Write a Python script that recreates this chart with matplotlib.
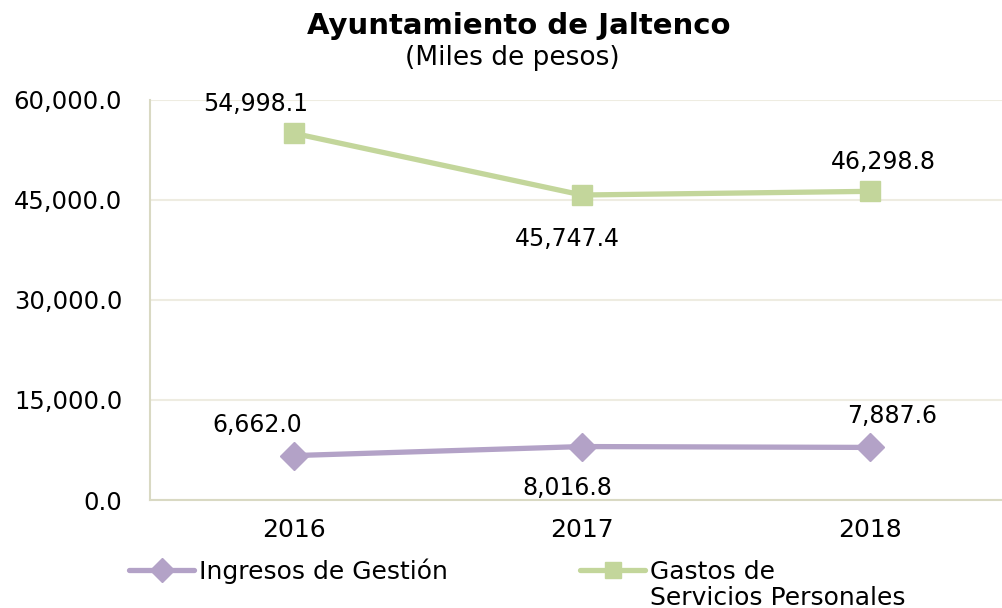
import matplotlib
matplotlib.use("Agg")
import matplotlib.pyplot as plt
from matplotlib.ticker import FuncFormatter, MultipleLocator

plt.rcParams['font.family'] = ['DejaVu Sans']

years = ["2016", "2017", "2018"]
ingresos = [6662.0, 8016.8, 7887.6]
gastos = [54998.1, 45747.4, 46298.8]
series_names = ["Ingresos de Gestión", "Gastos de", "Servicios Personales"]
title = "Ayuntamiento de Jaltenco"
subtitle = "(Miles de pesos)"

purple = "#b3a2c7"
green = "#c3d69b"

W, H = 1002, 608
fig = plt.figure(figsize=(W / 100, H / 100), dpi=100)
ax = fig.add_axes([150 / W, 108 / H, 864 / W, 400 / H])

x = list(range(len(years)))
l1, = ax.plot(x, ingresos, color=purple, lw=3.8, marker="D", ms=14, mec=purple, mfc=purple,
              solid_capstyle="round", label=series_names[0])
l2, = ax.plot(x, gastos, color=green, lw=3.8, marker="s", ms=14, mec=green, mfc=green,
              solid_capstyle="round", label=series_names[1])

ax.set_xlim(-0.5, 2.5)
ax.set_ylim(0, 60000)
ax.yaxis.set_major_locator(MultipleLocator(15000))
ax.yaxis.set_major_formatter(FuncFormatter(lambda v, p: f"{v:,.1f}"))
ax.set_xticks(x)
ax.set_xticklabels(years)
ax.tick_params(axis="both", length=0, colors="black")
ax.tick_params(axis="y", pad=20, labelsize=17.5)
ax.tick_params(axis="x", pad=13, labelsize=18)
ax.grid(axis="y", color="#eeece1", lw=1.5)
ax.set_axisbelow(True)
for s in ["top", "right"]:
    ax.spines[s].set_visible(False)
ax.spines["left"].set_color("#d9d9c3")
ax.spines["left"].set_linewidth(1.5)
ax.spines["bottom"].set_color("#d9d9c3")
ax.spines["bottom"].set_linewidth(1.5)

offs_g = [(-38, 29), (-15, -44), (13, 29)]
offs_i = [(-37, 31), (-15, -41), (22, 31)]
for xi, v, o in zip(x, gastos, offs_g):
    ax.annotate(f"{v:,.1f}", (xi, v), xytext=o, textcoords="offset pixels",
                ha="center", va="center", fontsize=17)
for xi, v, o in zip(x, ingresos, offs_i):
    ax.annotate(f"{v:,.1f}", (xi, v), xytext=o, textcoords="offset pixels",
                ha="center", va="center", fontsize=17)

fig.text(519 / W, 1 - 26 / H, title, ha="center", va="center", fontsize=21, fontweight="bold")
fig.text(512 / W, 1 - 58 / H, subtitle, ha="center", va="center", fontsize=19)

leg = fig.legend(handles=[l1, l2], loc="center left", bbox_to_anchor=(129 / W, 1 - 571 / H),
                 ncol=2, frameon=False, fontsize=18, handlelength=2.6, handletextpad=0.2,
                 columnspacing=5.3, borderpad=0, borderaxespad=0, markerscale=0.85)
fig.canvas.draw()
t2 = leg.get_texts()[1]
bb = t2.get_window_extent()
fig.text(bb.x0 / W, (bb.y0 - 26 + bb.height / 2) / H, series_names[2], ha="left", va="center",
         fontsize=18)

fig.savefig("out.png", dpi=100)
